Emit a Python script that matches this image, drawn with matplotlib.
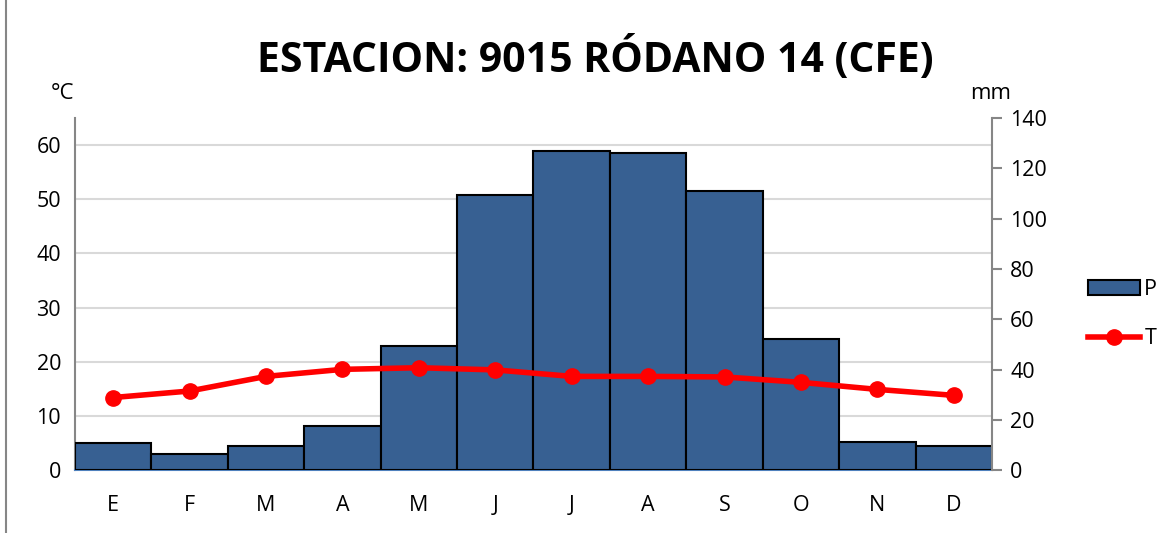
import matplotlib.pyplot as plt
from matplotlib.lines import Line2D
from matplotlib.patches import Patch

months = ["E", "F", "M", "A", "M", "J", "J", "A", "S", "O", "N", "D"]
precip = [10.9, 6.6, 9.6, 17.6, 49.4, 109.5, 126.7, 125.9, 111.1, 52.3, 11.0, 9.7]
temp = [13.4, 14.6, 17.3, 18.6, 18.9, 18.5, 17.3, 17.3, 17.2, 16.2, 14.9, 13.8]
temp_ticks = [0, 10, 20, 30, 40, 50, 60]
precip_ticks = [0, 20, 40, 60, 80, 100, 120, 140]

plt.rcParams['font.family'] = ['Open Sans', 'DejaVu Sans']

fig = plt.figure(figsize=(11.76, 5.33), dpi=100)
ax = fig.add_axes([0.0638, 0.118, 0.7797, 0.6606])
ax2 = ax.twinx()
ax3 = ax.twinx()

x = list(range(len(months)))

# left axis: degrees, with gridlines
ax.set_ylim(0, 65)
ax.set_yticks(temp_ticks)
ax.set_xlim(-0.5, 11.5)
ax.grid(axis='y', color='#d9d9d9', linewidth=1.5)
ax.set_axisbelow(True)
ax.tick_params(axis='y', length=0, labelsize=15.5, pad=10)
ax.tick_params(axis='x', length=0, labelsize=15.5, pad=18)
ax.set_xticks(x)
ax.set_xticklabels(months)
for s in ['top', 'right']:
    ax.spines[s].set_visible(False)
ax.spines['left'].set_color('#868686')
ax.spines['left'].set_linewidth(1.5)
ax.spines['bottom'].set_color('#4f81bd')
ax.spines['bottom'].set_linewidth(1.5)

# right axis: precipitation bars
ax2.bar(x, precip, width=1.0, color='#376092', edgecolor='black', linewidth=1.5, label='P')
ax2.set_ylim(0, 140)
ax2.set_yticks(precip_ticks)
ax2.tick_params(axis='y', direction='out', length=7, width=1.5, color='#868686', labelsize=15.5, pad=6)
for s in ['top', 'left', 'bottom']:
    ax2.spines[s].set_visible(False)
ax2.spines['right'].set_color('#868686')
ax2.spines['right'].set_linewidth(1.5)

# temperature line on top, same scale as left axis
ax3.plot(x, temp, color='#ff0000', linewidth=4, marker='o', markersize=11, label='T')
ax3.set_ylim(0, 65)
ax3.set_yticks([])
for s in ax3.spines.values():
    s.set_visible(False)

fig.text(0.506, 0.889, "ESTACION: 9015 RÓDANO 14 (CFE)", ha='center', va='center',
         fontsize=29.5, fontweight='bold')
fig.text(0.053, 0.825, "°C", ha='center', va='center', fontsize=16)
fig.text(0.842, 0.825, "mm", ha='center', va='center', fontsize=16)

handles = [Patch(facecolor='#376092', edgecolor='black', linewidth=1.5),
           Line2D([0], [0], color='#ff0000', linewidth=4, marker='o', markersize=11)]
fig.legend(handles, ['P', 'T'], loc='center left', bbox_to_anchor=(0.909, 0.41),
           frameon=False, fontsize=15.5, handlelength=2.4, handletextpad=0.2, labelspacing=1.3)

fig.add_artist(Line2D([0.005, 0.005], [0, 1], color='#868686', linewidth=1.5))

fig.savefig("out.png", dpi=100)
